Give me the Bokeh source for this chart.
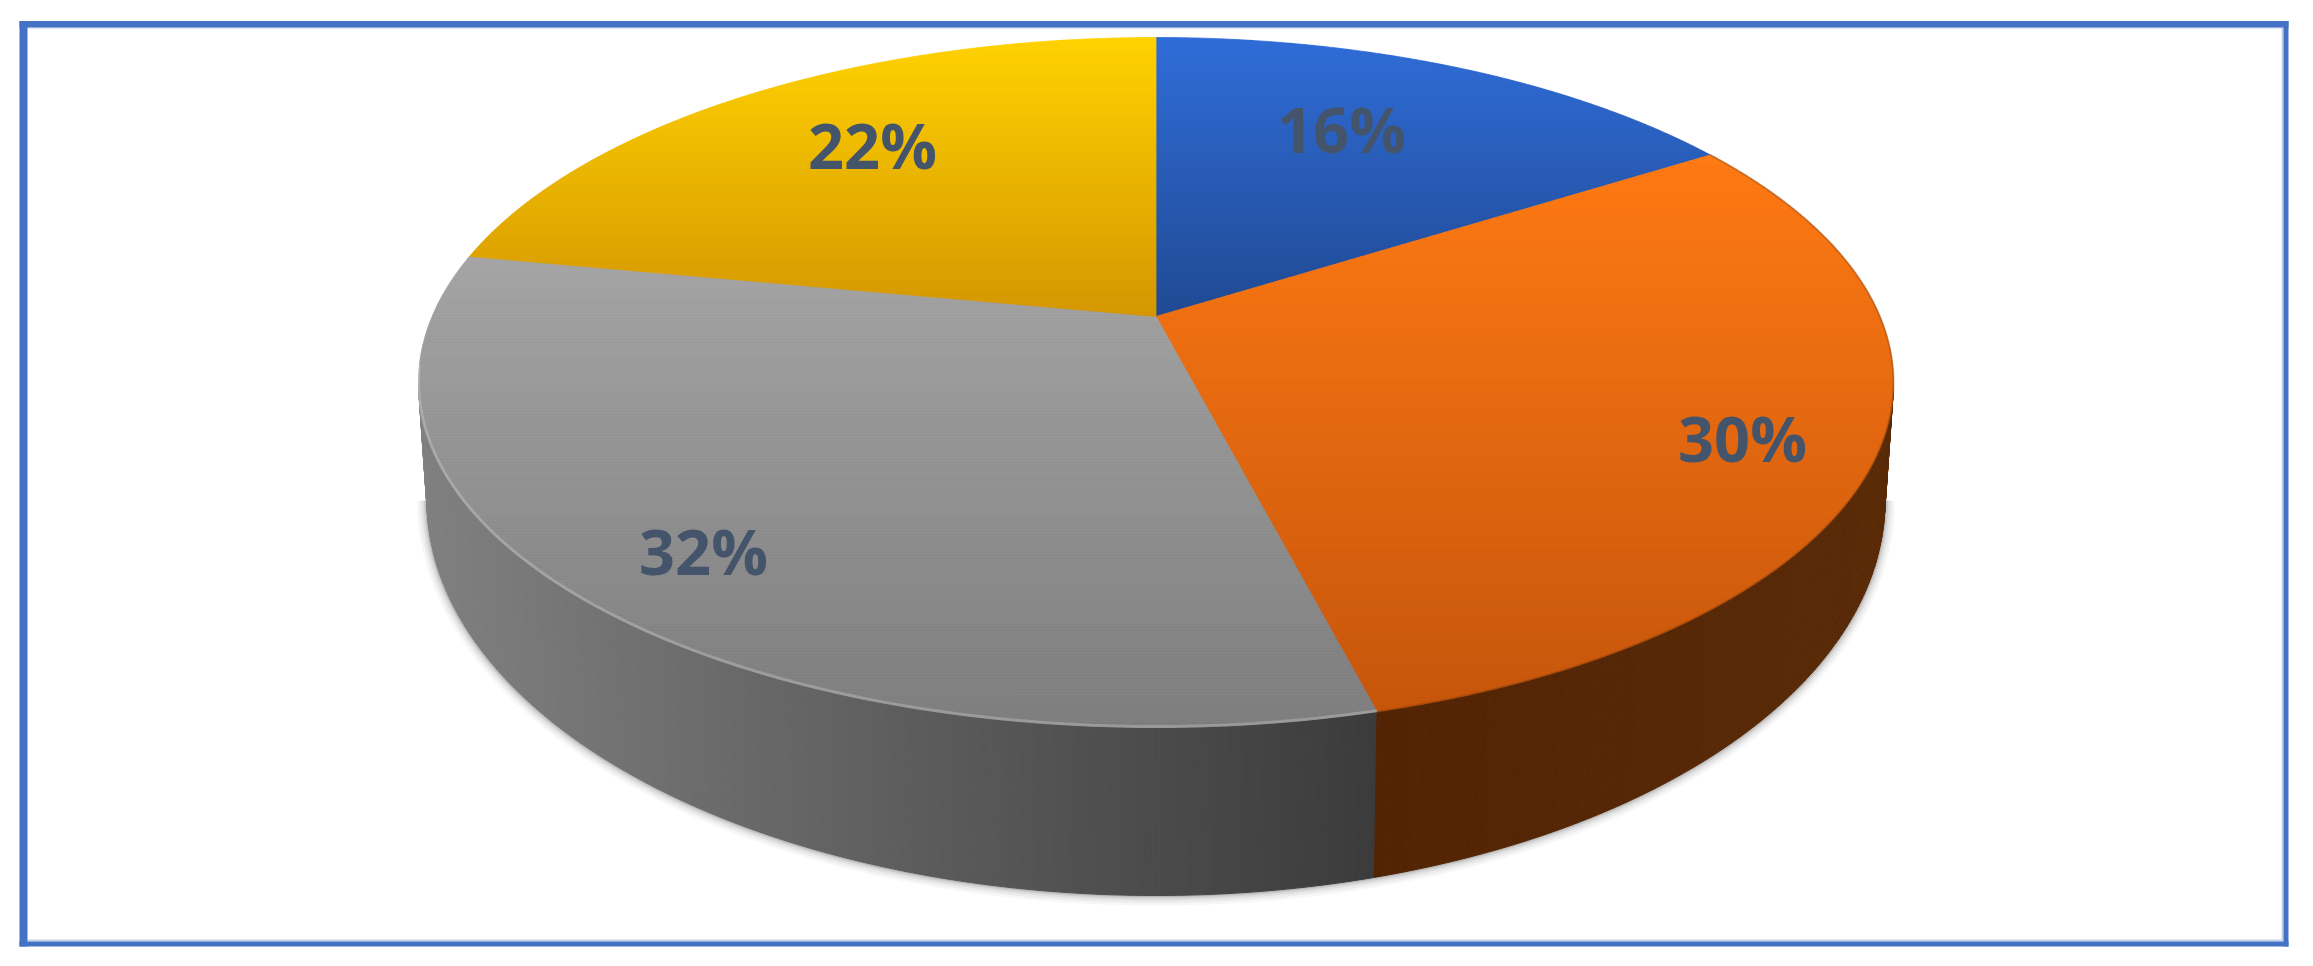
import numpy as np
from bokeh.plotting import figure
from bokeh.models import Range1d, ColumnDataSource
from bokeh.core.properties import value
from bokeh.embed import file_html
from bokeh.resources import INLINE

# ---- data ----
values = [16, 30, 32, 22]
labels = ["16%", "30%", "32%", "22%"]

# ---- styles ----
top_colors = [((47, 108, 216), (31, 73, 146)),      # blue: top colour, bottom colour
              ((255, 122, 20), (198, 86, 12)),      # orange
              ((164, 164, 164), (125, 125, 125)),   # gray
              ((255, 210, 0), (212, 150, 0))]       # yellow
label_x = [1341, 1742, 703, 872]
label_y = [128, 437, 550, 144]
LABEL_COLOR = "#44546a"
BORDER = "#4472c4"

# ---- geometry of the tilted disk (picture pixels) ----
CX, APEX_Y = 1155.5, 316.0
TOP_Y, BOT_Y, HALF_W = 37.0, 727.0, 737.5
K = ((BOT_Y - APEX_Y) - (APEX_Y - TOP_Y)) / (BOT_Y - TOP_Y)
B = (APEX_Y - TOP_Y) * (1 + K)
A = HALF_W * np.sqrt(1 - K * K)
RIM_C, RIM_H = (TOP_Y + BOT_Y) / 2, (BOT_Y - TOP_Y) / 2
LOW_C, LOW_H, LOW_W = 500.0, 395.0, 729.0


def project(theta, r=1.0):
    u, v = r * np.sin(theta), r * np.cos(theta)
    d = 1 + K * v
    return CX + A * u / d, APEX_Y - B * v / d


def clip(poly, ymin, ymax):
    def cut(pts, keep, y0):
        out = []
        for i in range(len(pts)):
            a, b = pts[i], pts[(i + 1) % len(pts)]
            ka, kb = keep(a[1]), keep(b[1])
            if ka:
                out.append(a)
            if ka != kb:
                t = (y0 - a[1]) / (b[1] - a[1])
                out.append((a[0] + t * (b[0] - a[0]), y0))
        return out
    pts = cut(poly, lambda y: y >= ymin, ymin)
    if pts:
        pts = cut(pts, lambda y: y <= ymax, ymax)
    return pts


def hexcol(c):
    return "#%02x%02x%02x" % tuple(int(round(max(0, min(255, x)))) for x in c)


def mix(c0, c1, t):
    return [a + (b - a) * t for a, b in zip(c0, c1)]


p = figure(width=2297, height=950, output_backend="svg", toolbar_location=None,
           x_range=Range1d(0, 2297), y_range=Range1d(950, 0),
           min_border=0, outline_line_color=None, background_fill_color="white",
           border_fill_color="white")
p.axis.visible = False
p.grid.visible = False

cum = np.cumsum([0] + values) / sum(values) * 2 * np.pi

# soft shadow round the lower rim
phis = np.linspace(-np.pi / 2, np.pi / 2, 240)
sx = CX + LOW_W * np.sin(phis)
sy = LOW_C + LOW_H * np.cos(phis)
for w, al in [(20, 0.05), (15, 0.07), (10, 0.1), (6, 0.14), (3, 0.2)]:
    p.line(sx, sy, line_color="#606060", line_width=w, line_alpha=al)

# side wall, as thin quads coloured by position
split_x, _ = project(cum[2])
split_s = (split_x - CX) / HALF_W
sv = np.sort(np.append(np.sin(np.linspace(-np.pi / 2, np.pi / 2, 300)), split_s))
wx, wy, wc = [], [], []
for s0, s1 in zip(sv[:-1], sv[1:]):
    xs, ys = [], []
    for s, f in ((s0, 0), (s1, 0), (s1, 1), (s0, 1)):
        q = np.sqrt(max(0, 1 - s * s))
        if f == 0:
            xs.append(CX + HALF_W * s)
            ys.append(RIM_C + RIM_H * q)
        else:
            xs.append(CX + LOW_W * s)
            ys.append(LOW_C + LOW_H * q)
    mid = (s0 + s1) / 2
    if mid < split_s:
        t = (mid + 1) / (split_s + 1)
        col = mix((128, 128, 128), (59, 59, 59), t)
    else:
        t = (mid - split_s) / (1 - split_s)
        col = mix((82, 36, 4), (90, 43, 8), t)
    wx.append(xs); wy.append(ys); wc.append(hexcol(col))
p.patches(wx, wy, fill_color=wc, line_color=wc, line_width=1)

# top face, one band per few pixels so that each slice has a vertical gradient
bx, by, bc = [], [], []
for i in range(len(values)):
    th = np.linspace(cum[i], cum[i + 1], 160)
    rx, ry = project(th)
    poly = [(CX, APEX_Y)] + list(zip(rx, ry))
    ylo, yhi = float(ry.min()), float(ry.max())
    ylo, yhi = min(ylo, APEX_Y), max(yhi, APEX_Y)
    y = ylo
    while y < yhi:
        y2 = min(y + 3, yhi)
        pts = clip(poly, y, y2)
        if len(pts) >= 3:
            t = ((y + y2) / 2 - ylo) / (yhi - ylo)
            c = hexcol(mix(top_colors[i][0], top_colors[i][1], t))
            bx.append([a for a, _ in pts]); by.append([b for _, b in pts]); bc.append(c)
        y = y2
p.patches(bx, by, fill_color=bc, line_color=bc, line_width=0.8)

# rim highlight on the gray slice and dark edge on the orange one
tg = np.linspace(cum[2], cum[3], 200)
gx, gy = project(tg)
mask = gy > RIM_C - 20
p.line(gx[mask], gy[mask] - 1, line_color="white", line_alpha=0.22, line_width=3)
to = np.linspace(cum[1], cum[2], 200)
ox, oy = project(to)
mask = oy < BOT_Y
p.line(ox[mask], oy[mask], line_color="#7a3a08", line_alpha=0.35, line_width=2)

# labels
src = ColumnDataSource(dict(x=label_x, y=label_y, t=labels))
p.text("x", "y", text="t", source=src, text_color=LABEL_COLOR,
       text_font=value("Open Sans"), text_font_style="bold", text_font_size="63px",
       text_align="center", text_baseline="middle")

# frame
p.quad(left=[27, 2281, 27], right=[2283, 2283, 2281], top=[27, 27, 939], bottom=[28, 941, 941],
       fill_color="#c4d0ea", line_color=None)
p.quad(left=[19, 19, 2283, 19], right=[2288, 27, 2288, 2288],
       top=[20.5, 20.5, 20.5, 941], bottom=[27, 946, 946, 946],
       fill_color=BORDER, line_color=None)

open("out.html", "w").write(file_html(p, INLINE))
